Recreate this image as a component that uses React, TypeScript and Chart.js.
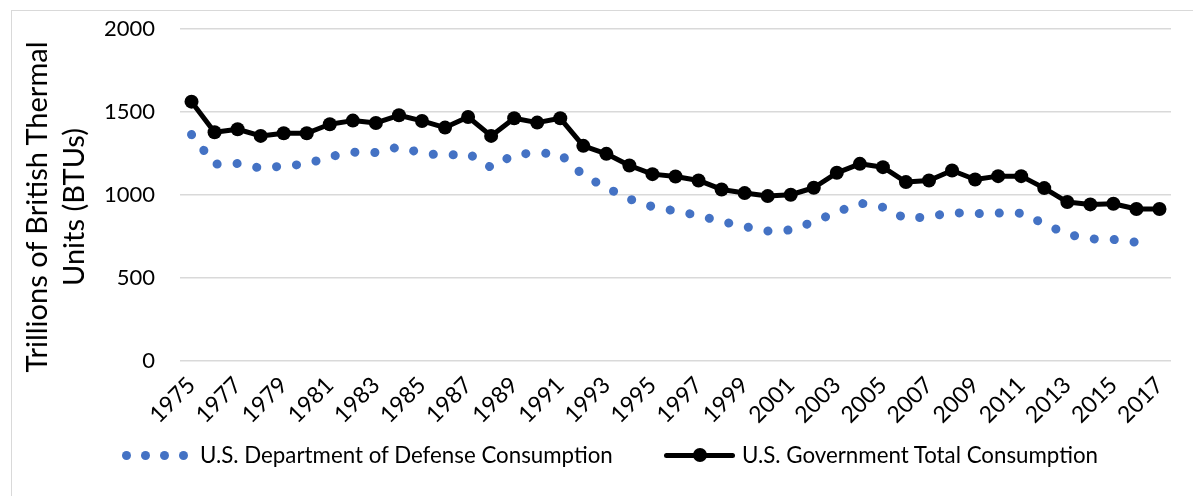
import React, { useEffect, useRef } from "react";
import { Chart, registerables } from "chart.js";

Chart.register(...registerables);

const years = [
  "1975", "1976", "1977", "1978", "1979", "1980", "1981", "1982", "1983", "1984",
  "1985", "1986", "1987", "1988", "1989", "1990", "1991", "1992", "1993", "1994",
  "1995", "1996", "1997", "1998", "1999", "2000", "2001", "2002", "2003", "2004",
  "2005", "2006", "2007", "2008", "2009", "2010", "2011", "2012", "2013", "2014",
  "2015", "2016", "2017",
];

const dodConsumption: (number | null)[] = [
  1362, 1184, 1188, 1160, 1173, 1185, 1229, 1256, 1254, 1288,
  1250, 1236, 1248, 1164, 1242, 1252, 1244, 1117, 1042, 974,
  928, 902, 875, 839, 809, 782, 788, 838, 895, 950,
  925, 856, 868, 893, 886, 890, 889, 826, 762, 735,
  731, 714, null,
];

const totalConsumption = [
  1560, 1376, 1394, 1354, 1370, 1370, 1424, 1446, 1432, 1478,
  1444, 1404, 1468, 1354, 1460, 1434, 1460, 1294, 1246, 1176,
  1124, 1110, 1086, 1032, 1010, 992, 1000, 1042, 1132, 1186,
  1166, 1076, 1086, 1146, 1092, 1112, 1112, 1040, 956, 942,
  946, 914, 914,
];

const yTicks = [0, 500, 1000, 1500, 2000];

const seriesNames = [
  "U.S. Department of Defense Consumption",
  "U.S. Government Total Consumption",
];
const yTitleLines = ["Trillions of British Thermal", "Units (BTUs)"];

const FONT = 'Lato, "Open Sans", sans-serif';
const BLUE = "#4472C4";

export default function App() {
  const ref = useRef<HTMLCanvasElement>(null);

  useEffect(() => {
    const chart = new Chart(ref.current!, {
      type: "line",
      data: {
        labels: years,
        datasets: [
          {
            label: seriesNames[0],
            data: dodConsumption,
            borderColor: BLUE,
            backgroundColor: BLUE,
            borderWidth: 9,
            borderDash: [0.1, 19.9],
            borderCapStyle: "round",
            pointRadius: 0,
            fill: false,
            tension: 0,
          },
          {
            label: seriesNames[1],
            data: totalConsumption,
            borderColor: "#000",
            backgroundColor: "#000",
            borderWidth: 5,
            borderJoinStyle: "round",
            pointRadius: 7,
            pointBackgroundColor: "#000",
            pointBorderWidth: 0,
            fill: false,
            tension: 0,
          },
        ],
      },
      options: {
        animation: false,
        responsive: true,
        maintainAspectRatio: false,
        layout: { padding: { top: 17.5, right: 22, bottom: 55, left: 0 } },
        plugins: { legend: { display: false }, tooltip: { enabled: false } },
        scales: {
          x: {
            offset: true,
            grid: { display: false },
            border: { display: false },
            ticks: {
              autoSkip: false,
              maxRotation: 45,
              minRotation: 45,
              padding: 0,
              color: "#000",
              font: { family: FONT, size: 23, lineHeight: 1.5 },
              callback: (_v: any, i: number) => (i % 2 === 0 ? years[i] : ""),
            },
            afterFit: (s: any) => {
              s.height = 80;
              s.paddingLeft = 0;
              s.paddingRight = 0;
            },
          },
          y: {
            min: 0,
            max: 2000,
            grid: { color: "#d9d9d9", lineWidth: 1.5, drawTicks: false },
            border: { display: false },
            ticks: {
              padding: 25,
              color: "#000",
              font: { family: FONT, size: 22 },
              callback: (v: any) => String(v),
            },
            afterBuildTicks: (s: any) => {
              s.ticks = yTicks.map((v) => ({ value: v }));
            },
            afterFit: (s: any) => {
              s.width = 168;
              s.paddingTop = 0;
              s.paddingBottom = 0;
            },
          },
        },
      },
    });
    return () => chart.destroy();
  }, []);

  const dotXs = [126, 145, 164, 183];

  return (
    <div>
      <div
        style={{
          position: "absolute",
          left: 11,
          top: 10,
          width: 1182,
          height: 486,
          boxSizing: "border-box",
          borderTop: "1px solid #d9d9d9",
          borderLeft: "1px solid #d9d9d9",
        }}
      />
      <div style={{ position: "absolute", left: 12, top: 11, width: 1181, height: 485 }}>
        <canvas ref={ref} />
      </div>
      {/* Y axis title */}
      <div
        style={{
          position: "absolute",
          left: 54 - 220,
          top: 206.5 - 37,
          width: 440,
          height: 74,
          lineHeight: "37px",
          textAlign: "center",
          transform: "rotate(-90deg)",
          fontFamily: FONT,
          fontSize: 29,
          color: "#000",
          whiteSpace: "nowrap",
        }}
      >
        <div>{yTitleLines[0]}</div>
        <div>{yTitleLines[1]}</div>
      </div>
      {/* Legend */}
      {dotXs.map((x) => (
        <div
          key={x}
          style={{
            position: "absolute",
            left: x - 4.5,
            top: 455 - 4.5,
            width: 9,
            height: 9,
            borderRadius: "50%",
            background: BLUE,
          }}
        />
      ))}
      <div
        style={{
          position: "absolute",
          left: 200,
          top: 455 - 15,
          height: 30,
          lineHeight: "30px",
          fontFamily: FONT,
          fontSize: 22.3,
          color: "#000",
          whiteSpace: "nowrap",
        }}
      >
        {seriesNames[0]}
      </div>
      <div
        style={{
          position: "absolute",
          left: 664,
          top: 455 - 2.5,
          width: 71,
          height: 5,
          borderRadius: 2.5,
          background: "#000",
        }}
      />
      <div
        style={{
          position: "absolute",
          left: 700 - 7,
          top: 455 - 7,
          width: 14,
          height: 14,
          borderRadius: "50%",
          background: "#000",
        }}
      />
      <div
        style={{
          position: "absolute",
          left: 742,
          top: 455 - 15,
          height: 30,
          lineHeight: "30px",
          fontFamily: FONT,
          fontSize: 22.3,
          color: "#000",
          whiteSpace: "nowrap",
        }}
      >
        {seriesNames[1]}
      </div>
    </div>
  );
}
